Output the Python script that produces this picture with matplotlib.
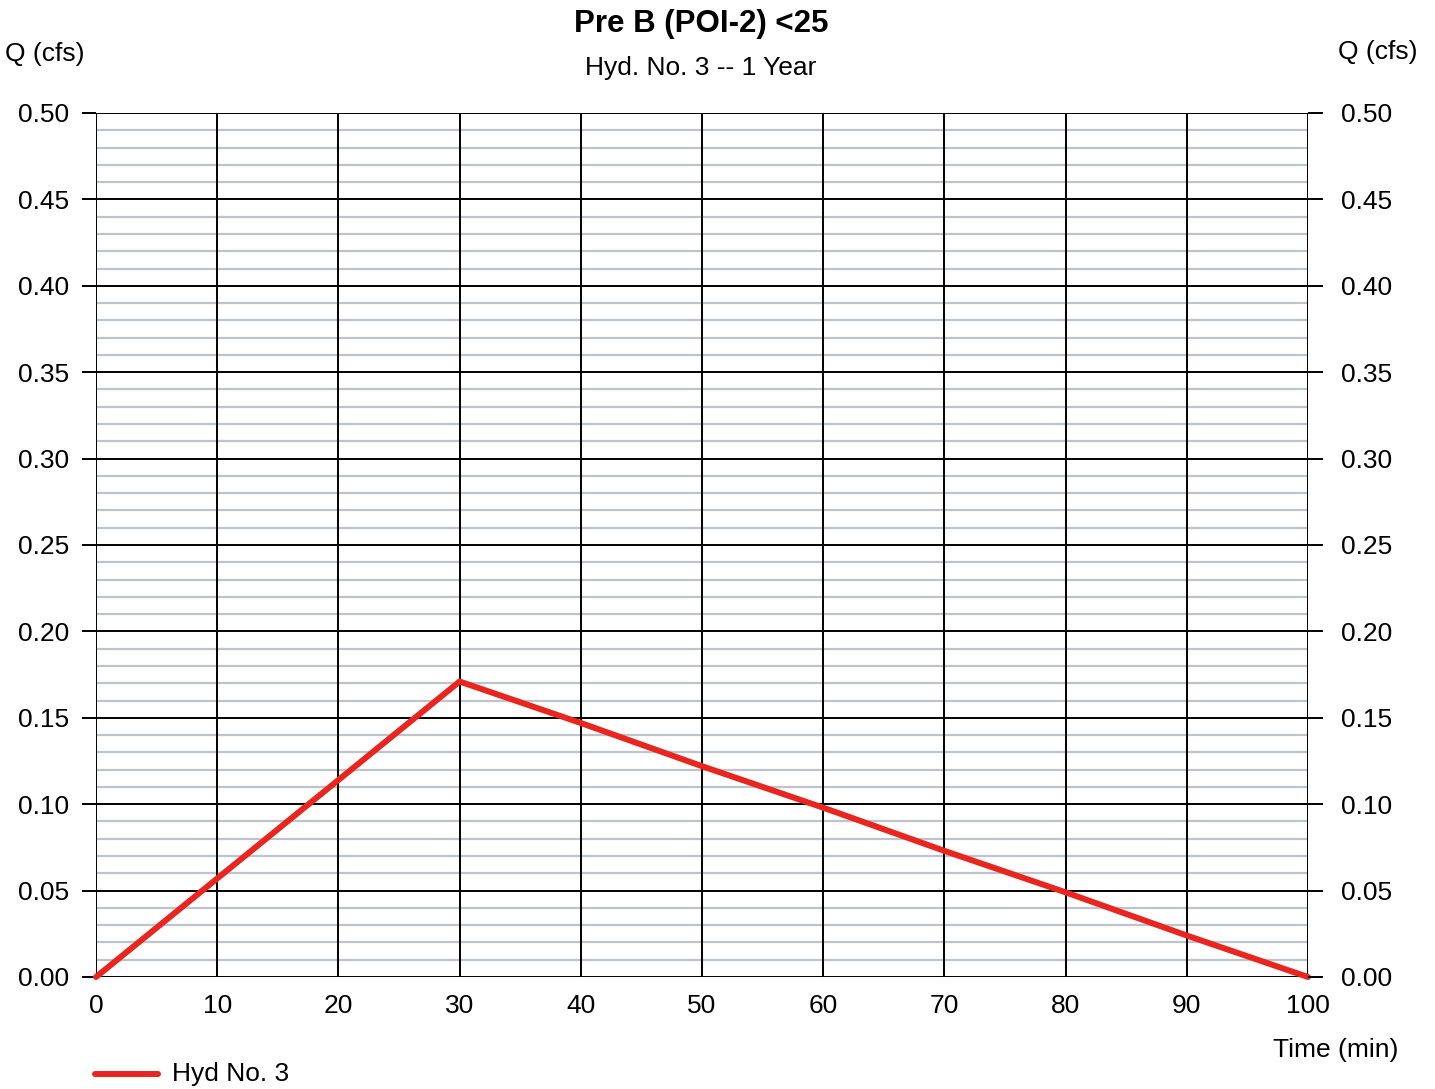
import matplotlib
matplotlib.use("Agg")
import matplotlib.pyplot as plt
import numpy as np
from matplotlib.lines import Line2D

# Hydrograph ordinates (time in minutes, flow in cfs)
time_min = [0, 10, 20, 30, 40, 50, 60, 70, 80, 90, 100]
flow_cfs = [0.0, 0.057, 0.114, 0.171, 0.147, 0.122, 0.098, 0.073, 0.049, 0.024, 0.0]

x_ticks = [0, 10, 20, 30, 40, 50, 60, 70, 80, 90, 100]
y_ticks = [0.00, 0.05, 0.10, 0.15, 0.20, 0.25, 0.30, 0.35, 0.40, 0.45, 0.50]

title = "Pre B (POI-2) <25"
subtitle = "Hyd. No. 3 -- 1 Year"
series_label = "Hyd No. 3"

plt.rcParams["font.family"] = ["Liberation Sans", "DejaVu Sans"]
FS = 19

fig = plt.figure(figsize=(14.35, 10.89), dpi=100)
ax = fig.add_axes([96 / 1435, 1 - 977 / 1089, 1212 / 1435, 864 / 1089])

ax.set_xlim(0, 100)
ax.set_ylim(0, 0.5)

# minor horizontal grid every 0.01
for v in np.arange(0.01, 0.5, 0.01):
    if abs(v / 0.05 - round(v / 0.05)) > 1e-6:
        ax.axhline(v, color="#bfc4ca", lw=1.6, zorder=1)

# major grid
for v in y_ticks:
    ax.axhline(v, color="black", lw=1.4, zorder=2)
for v in x_ticks:
    ax.axvline(v, color="black", lw=1.4, zorder=2)

ax.plot(time_min, flow_cfs, color="#e8261f", lw=4.3, solid_capstyle="round",
        solid_joinstyle="miter", zorder=5, clip_on=False)

for s in ax.spines.values():
    s.set_visible(False)

ax.set_xticks(x_ticks)
ax.set_xticklabels([str(t) for t in x_ticks])
ax.set_yticks(y_ticks)
ax.set_yticklabels([f"{t:.2f}" for t in y_ticks])
ax.tick_params(axis="x", length=0, pad=12, labelsize=FS)
ax.tick_params(axis="y", direction="out", length=10, width=1.4, pad=9,
               labelsize=FS, left=True, right=False)

# right-hand flow scale
axr = ax.twinx()
axr.set_ylim(ax.get_ylim())
axr.set_yticks(y_ticks)
axr.set_yticklabels([f"{t:.2f}" for t in y_ticks])
axr.tick_params(axis="y", direction="out", length=11, width=1.4, pad=13, labelsize=FS)
for s in axr.spines.values():
    s.set_visible(False)

fig.text(701 / 1435, 1 - 24 / 1089, title, ha="center", va="center",
         fontsize=22.5, fontweight="bold")
fig.text(701 / 1435, 1 - 68 / 1089, subtitle, ha="center", va="center", fontsize=FS)
fig.text(5 / 1435, 1 - 54 / 1089, "Q (cfs)", ha="left", va="center", fontsize=FS)
fig.text(1418 / 1435, 1 - 52 / 1089, "Q (cfs)", ha="right", va="center", fontsize=FS)
fig.text(1398 / 1435, 1 - 1050 / 1089, "Time (min)", ha="right", va="center", fontsize=FS)

# legend entry below the plot
fig.add_artist(Line2D([95 / 1435, 158 / 1435], [1 - 1074 / 1089] * 2,
                      color="#e8261f", lw=4.3, solid_capstyle="round"))
fig.text(172 / 1435, 1 - 1074 / 1089, series_label, ha="left", va="center", fontsize=FS)

fig.savefig("out.png", dpi=100)
